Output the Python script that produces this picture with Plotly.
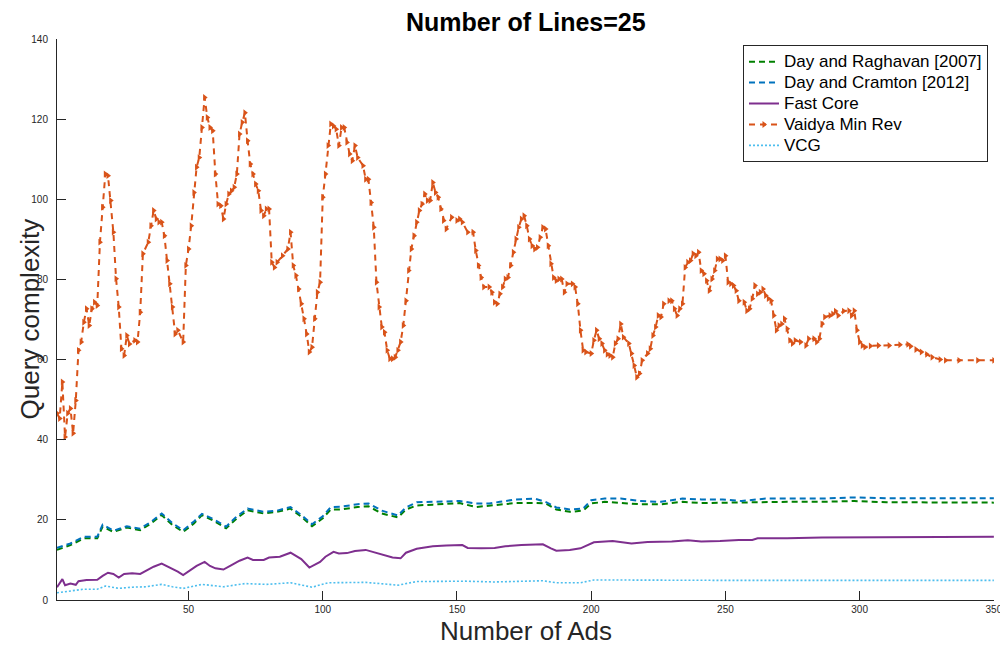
import plotly.graph_objects as go

# ---- data -------------------------------------------------------------
raghavan_x = [1, 6, 11, 16, 18, 22, 27, 32, 36, 40, 44, 48, 52, 55, 59, 64, 68, 72, 78, 83,
              88, 92, 96, 100, 103, 107, 113, 117, 122, 128, 131, 135, 141, 146, 151, 157,
              162, 166, 172, 179, 183, 187, 192, 197, 200, 205, 211, 218, 226, 234, 241,
              249, 256, 265, 273, 286, 298, 310, 330, 350]
raghavan_y = [12.5, 13.7, 15.4, 15.4, 18.3, 17.0, 18.1, 17.4, 19.1, 21.2, 18.7, 17.0, 19.1,
              21.2, 19.9, 17.9, 20.4, 22.4, 21.6, 22.0, 22.8, 20.8, 18.4, 20.4, 22.6, 22.6,
              23.2, 23.4, 21.6, 20.6, 22.6, 23.6, 23.8, 24.0, 24.2, 23.2, 23.5, 23.8, 24.2,
              24.2, 24.1, 22.6, 22.0, 22.3, 24.1, 24.5, 24.2, 23.9, 23.9, 24.5, 24.2, 24.3,
              24.2, 24.5, 24.5, 24.5, 24.7, 24.4, 24.3, 24.3]

cramton_x = raghavan_x
cramton_y = [13.0, 14.1, 15.8, 15.8, 18.8, 17.3, 18.4, 17.8, 19.5, 21.6, 19.2, 17.4, 19.6,
             21.5, 20.3, 18.3, 20.9, 22.8, 22.0, 22.3, 23.2, 21.2, 18.9, 20.9, 23.2, 23.3,
             23.9, 24.1, 22.3, 21.1, 23.1, 24.4, 24.5, 24.6, 24.7, 24.1, 24.1, 24.5, 25.1,
             25.3, 24.5, 23.1, 22.6, 22.8, 24.9, 25.3, 25.3, 24.7, 24.5, 25.3, 25.1, 25.1,
             24.7, 25.3, 25.3, 25.3, 25.6, 25.4, 25.4, 25.4]

fastcore_x = [1, 2, 3, 4, 6, 8, 9, 12, 16, 18, 20, 22, 24, 26, 29, 32, 34, 37, 40, 43, 46,
              48, 50, 53, 56, 58, 60, 63, 66, 69, 72, 74, 78, 80, 84, 88, 92, 95, 99, 101,
              104, 106, 109, 112, 116, 121, 126, 129, 131, 135, 141, 146, 152, 154, 159,
              164, 168, 174, 182, 185, 187, 192, 196, 201, 208, 215, 221, 230, 236, 241,
              248, 255, 260, 262, 273, 286, 299, 310, 330, 350]
fastcore_y = [3.2, 4.2, 5.2, 3.7, 4.1, 3.8, 4.7, 5.0, 5.05, 6.0, 6.8, 6.5, 5.6, 6.5, 6.7,
              6.5, 7.3, 8.3, 9.1, 8.1, 7.1, 6.2, 7.2, 8.5, 9.5, 8.5, 7.9, 7.6, 8.7, 9.8,
              10.6, 10.0, 10.0, 10.6, 10.8, 11.8, 10.2, 8.1, 9.5, 10.8, 12.0, 11.6, 11.7,
              12.2, 12.5, 11.5, 10.6, 10.4, 11.8, 12.8, 13.4, 13.6, 13.7, 13.0, 12.9, 13.0,
              13.4, 13.7, 13.9, 12.9, 12.3, 12.5, 12.9, 14.4, 14.7, 14.1, 14.5, 14.6, 14.9,
              14.6, 14.7, 15.0, 15.0, 15.4, 15.4, 15.6, 15.6, 15.6, 15.7, 15.8]

vaidya_x = [1, 2, 3, 4, 5, 6, 7, 8, 9, 10, 11, 12, 13, 14, 15, 16, 17, 18, 19, 20, 21, 22,
            23, 24, 25, 26, 27, 28, 30, 31, 32, 33, 35, 36, 37, 38, 39, 40, 41, 42, 43, 44,
            45, 46, 48, 49, 50, 51, 52, 53, 54, 55, 56, 57, 58, 59, 60, 61, 62, 63, 64, 65,
            66, 67, 68, 69, 70, 71, 72, 73, 74, 75, 76, 77, 78, 79, 80, 81, 82, 83, 85, 87,
            88, 89, 90, 91, 92, 93, 94, 95, 96, 97, 98, 99, 100, 101, 102, 103, 104, 105,
            106, 107, 108, 109, 110, 111, 112, 113, 115, 116, 117, 118, 119, 120, 121, 122,
            123, 124, 125, 126, 127, 128, 129, 130, 131, 132, 133, 134, 135, 136, 137, 138,
            139, 140, 141, 142, 143, 144, 145, 146, 148, 150, 151, 152, 154, 156, 157, 158,
            159, 160, 162, 163, 164, 165, 166, 167, 168, 169, 170, 171, 172, 173, 174, 175,
            176, 177, 178, 179, 180, 181, 182, 183, 184, 185, 186, 187, 188, 189, 190, 191,
            193, 194, 195, 196, 197, 198, 200, 201, 202, 203, 204, 205, 206, 207, 208, 209,
            210, 211, 212, 214, 215, 216, 217, 218, 219, 221, 222, 223, 224, 225, 226, 227,
            229, 230, 231, 232, 233, 234, 235, 236, 237, 238, 239, 240, 241, 242, 243, 244,
            245, 246, 247, 248, 249, 250, 251, 252, 253, 254, 255, 257, 258, 259, 260, 261,
            262, 263, 264, 265, 266, 267, 268, 269, 270, 271, 272, 273, 274, 275, 276, 278,
            280, 281, 283, 284, 285, 286, 287, 289, 290, 291, 292, 294, 296, 297, 298, 299,
            300, 301, 302, 304, 307, 311, 315, 318, 319, 321, 323, 325, 327, 330, 332, 337,
            344, 350]
vaidya_y = [46.6, 45.3, 54.4, 40.7, 46.6, 47.8, 41.6, 49.8, 62.3, 64.4, 69.3, 72.7, 68.5,
            72.7, 74.3, 73.5, 89.3, 98.0, 106.3, 105.9, 99.7, 91.8, 80.2, 73.1, 62.7, 61.0,
            66.0, 63.9, 64.8, 64.4, 71.8, 86.4, 89.3, 93.4, 97.2, 95.1, 94.3, 94.3, 90.9,
            84.7, 78.9, 73.1, 66.4, 67.3, 64.4, 83.5, 87.6, 93.4, 101.7, 108.0, 110.4,
            117.9, 125.4, 120.4, 117.9, 117.1, 106.3, 98.8, 98.4, 95.1, 98.8, 101.3, 102.1,
            103.0, 106.3, 116.3, 119.2, 121.6, 114.6, 108.8, 106.3, 103.8, 102.1, 97.2,
            95.9, 97.6, 97.6, 84.3, 83.0, 84.3, 85.9, 87.6, 91.8, 83.5, 81.0, 77.6, 73.9,
            70.2, 66.4, 61.9, 63.1, 70.2, 76.8, 79.3, 100.5, 106.3, 113.4, 118.8, 118.3,
            117.5, 113.4, 117.9, 117.9, 114.2, 111.3, 109.6, 113.4, 110.4, 108.4, 105.0,
            105.0, 99.2, 93.0, 79.3, 73.1, 68.1, 66.8, 62.3, 60.2, 60.2, 60.6, 62.3, 64.4,
            68.5, 74.7, 82.2, 87.6, 90.9, 94.3, 97.2, 98.8, 101.3, 99.7, 99.7, 104.2, 101.7,
            100.5, 97.6, 94.7, 92.6, 95.5, 94.7, 95.1, 94.3, 91.8, 91.8, 87.2, 83.5, 80.5,
            78.1, 78.1, 76.8, 74.3, 73.9, 76.4, 78.1, 80.1, 80.5, 83.5, 86.8, 90.1, 93.0,
            95.1, 95.9, 93.4, 90.1, 88.4, 87.6, 88.0, 90.5, 93.0, 92.6, 88.4, 83.9, 80.5,
            79.7, 80.1, 80.1, 76.8, 78.9, 78.9, 78.1, 73.9, 67.3, 62.3, 61.9, 61.5, 64.8,
            67.3, 65.2, 64.0, 62.3, 61.3, 61.0, 60.6, 64.0, 65.2, 68.9, 65.6, 64.0, 61.5,
            58.5, 55.6, 56.5, 59.8, 61.5, 62.7, 66.0, 68.1, 71.0, 70.6, 73.9, 74.7, 74.7,
            72.7, 71.0, 72.7, 73.9, 83.0, 84.3, 84.7, 86.4, 85.9, 86.8, 82.2, 81.4, 79.7,
            77.2, 80.1, 82.2, 85.1, 85.1, 84.7, 85.9, 79.3, 78.9, 78.5, 77.2, 74.7, 74.3,
            72.2, 72.7, 75.2, 78.5, 76.4, 76.8, 77.6, 76.0, 75.2, 74.7, 71.0, 67.3, 68.5,
            68.9, 70.2, 67.7, 64.8, 64.0, 64.8, 64.4, 63.5, 65.2, 65.2, 64.4, 65.2, 68.9,
            70.6, 71.0, 71.4, 72.1, 71.0, 72.1, 72.2, 71.0, 72.2, 67.3, 64.4, 63.5, 63.1,
            63.4, 63.5, 63.5, 63.7, 63.8, 63.3, 62.5, 61.9, 61.3, 60.6, 60.0, 59.8, 59.8,
            59.8, 59.8]

vcg_x = [1, 5, 11, 16, 19, 24, 29, 34, 40, 44, 48, 55, 63, 71, 79, 88, 96, 102, 116, 128,
         135, 153, 164, 182, 187, 196, 201, 250, 300, 350]
vcg_y = [1.8, 2.2, 2.7, 2.7, 3.5, 2.9, 3.2, 3.3, 3.9, 3.3, 2.9, 3.9, 3.3, 4.1, 3.9, 4.3,
         3.2, 4.3, 4.4, 3.7, 4.6, 4.7, 4.5, 4.8, 4.3, 4.3, 5.0, 4.9, 4.9, 4.9]

x_ticks = [50, 100, 150, 200, 250, 300, 350]
y_ticks = [0, 20, 40, 60, 80, 100, 120, 140]

# ---- figure -----------------------------------------------------------
FONT = "Liberation Sans, Arial, Helvetica, sans-serif"
INK = "#262626"


def legend_label(text):
    # larger glyphs than the legend font, so rows stay compact
    return f'<span style="font-size:17px">{text}</span>'


fig = go.Figure()
fig.add_trace(go.Scatter(x=raghavan_x, y=raghavan_y, mode="lines",
                         name=legend_label("Day and Raghavan [2007]"),
                         line=dict(color="#008000", width=2, dash="6px,4px")))
fig.add_trace(go.Scatter(x=cramton_x, y=cramton_y, mode="lines",
                         name=legend_label("Day and Cramton [2012]"),
                         line=dict(color="#0072BD", width=2, dash="6px,4px")))
fig.add_trace(go.Scatter(x=fastcore_x, y=fastcore_y, mode="lines",
                         name=legend_label("Fast Core"),
                         line=dict(color="#7E2F8E", width=2)))
fig.add_trace(go.Scatter(x=vaidya_x, y=vaidya_y, mode="lines+markers",
                         name=legend_label("Vaidya Min Rev"),
                         line=dict(color="#D95319", width=2, dash="6px,5px"),
                         marker=dict(symbol="triangle-right", size=6, color="#D95319")))
fig.add_trace(go.Scatter(x=vcg_x, y=vcg_y, mode="lines",
                         name=legend_label("VCG"),
                         line=dict(color="#4DBEEE", width=1.6, dash="2px,2px")))

axis_common = dict(showgrid=False, zeroline=False, showline=True, linecolor=INK,
                   linewidth=1, ticks="inside", ticklen=9, tickcolor=INK, tickwidth=1,
                   tickfont=dict(family=FONT, size=10, color=INK), automargin=False,
                   ticklabeloverflow="allow")

fig.update_xaxes(range=[1, 350.05], tickvals=x_ticks, **axis_common)
fig.update_yaxes(range=[0, 140], tickvals=y_ticks, ticklabelstandoff=6, **axis_common)

fig.update_layout(
    width=1000, height=649,
    margin=dict(l=57, r=6, t=39, b=49),
    paper_bgcolor="white", plot_bgcolor="white",
    showlegend=True,
    legend=dict(x=0.9936, y=0.989, xanchor="right", yanchor="top",
                bgcolor="white", bordercolor=INK, borderwidth=1,
                font=dict(family=FONT, size=13.8, color="black"),
                itemwidth=30, tracegroupgap=0),
    annotations=[
        dict(text="<b>Number of Lines=25</b>", xref="paper", yref="paper",
             x=0.5, y=1, yshift=17, xanchor="center", yanchor="middle",
             showarrow=False, font=dict(family=FONT, size=25, color="black")),
        dict(text="Number of Ads", xref="paper", yref="paper",
             x=0.5, y=0, yshift=-31, xanchor="center", yanchor="middle",
             showarrow=False, font=dict(family=FONT, size=26, color=INK)),
        dict(text="Query complexity", xref="paper", yref="paper",
             x=0, y=0.5, xshift=-28, xanchor="center", yanchor="middle",
             textangle=-90, showarrow=False, font=dict(family=FONT, size=26, color=INK)),
    ],
)

fig.write_html("out.html")
